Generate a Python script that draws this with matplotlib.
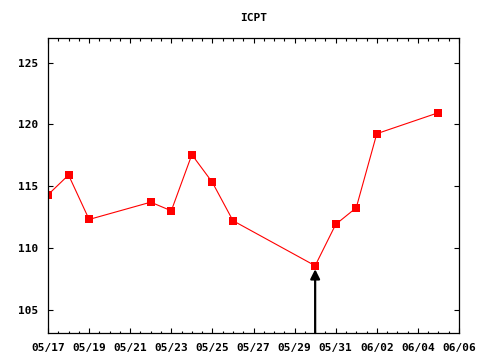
import matplotlib
matplotlib.use("Agg")
import matplotlib.pyplot as plt
import matplotlib.dates as mdates
from datetime import datetime

# data
dates = ["05/17", "05/18", "05/19", "05/22", "05/23", "05/24", "05/25",
         "05/26", "05/30", "05/31", "06/01", "06/02", "06/05"]
values = [114.3, 115.9, 112.3, 113.7, 113.0, 117.55, 115.3,
          112.2, 108.55, 111.9, 113.25, 119.25, 120.95]
arrow_date = "05/30"
arrow_value = 108.55

year = 2008
x = [datetime.strptime(f"{year}/{d}", "%Y/%m/%d") for d in dates]
xa = datetime.strptime(f"{year}/{arrow_date}", "%Y/%m/%d")

plt.rcParams['font.family'] = ['DejaVu Sans Mono']
plt.rcParams['font.weight'] = 'bold'
plt.rcParams['font.size'] = 8

fig = plt.figure(figsize=(4.8, 3.6), dpi=100)
ax = fig.add_axes([0.1, 0.075, 0.85625, 0.8194])

ax.plot(x, values, color='#ff0000', lw=0.8, marker='s', markersize=5.8,
        markeredgewidth=0, markerfacecolor='#ff0000')

ax.annotate('', xy=(xa, arrow_value), xycoords='data',
            xytext=(xa, 0), textcoords=('data', 'axes fraction'),
            arrowprops=dict(arrowstyle='-|>', lw=1.6, color='black',
                            mutation_scale=14, shrinkA=0, shrinkB=2.5))

ax.set_xlim(datetime(year, 5, 17), datetime(year, 6, 6))
ax.set_ylim(103.1, 127.0)
ax.xaxis.set_major_locator(mdates.DayLocator(interval=2))
ax.xaxis.set_minor_locator(mdates.HourLocator(byhour=[0, 12]))
ax.xaxis.set_major_formatter(mdates.DateFormatter("%m/%d"))
ax.set_yticks([105, 110, 115, 120, 125])

ax.tick_params(which='both', direction='in', top=True, right=True, width=0.8)
ax.tick_params(which='major', length=3.5, pad=7)
ax.tick_params(which='minor', length=1.8)
for s in ax.spines.values():
    s.set_linewidth(0.9)

ax.set_title("ICPT", fontsize=8, fontweight='bold', pad=12)

fig.savefig("out.png", dpi=100)
